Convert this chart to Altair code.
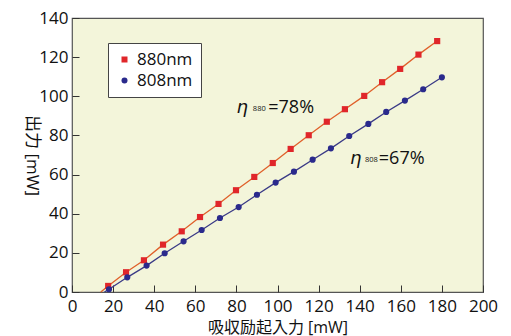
import altair as alt
import pandas as pd

x880 = [17.6, 26.3, 35.0, 44.3, 53.4, 62.3, 71.3, 79.8, 88.7, 97.7, 106.4, 115.2, 124.0, 132.8, 142.2, 150.9, 159.7, 168.6, 177.7]
y880 = [3.1, 10.1, 16.2, 24.2, 31.0, 38.3, 45.0, 52.0, 58.8, 65.9, 73.1, 80.1, 87.0, 93.4, 100.2, 107.2, 114.0, 121.3, 128.2]
x808 = [18.0, 26.9, 36.3, 45.1, 54.3, 63.1, 72.0, 81.1, 90.0, 99.1, 108.0, 117.1, 126.0, 134.9, 144.2, 152.9, 162.0, 170.9, 180.0]
y808 = [1.4, 7.5, 13.5, 19.8, 25.9, 31.7, 37.8, 43.4, 49.7, 55.9, 61.5, 67.6, 73.4, 79.7, 85.9, 92.0, 97.8, 103.6, 109.7]
# where each fitted line meets zero output
start880 = 14.0
start808 = 15.8

series = ["880nm", "808nm"]
marker_colors = ["#e0262a", "#2a2a8c"]
line_colors = ["#e0602a", "#3a3a86"]
shapes = ["square", "circle"]

x_ticks = [0, 20, 40, 60, 80, 100, 120, 140, 160, 180, 200]
y_ticks = [0, 20, 40, 60, 80, 100, 120, 140]

pts = pd.DataFrame(
    {"x": x880 + x808, "y": y880 + y808,
     "s": ["880nm"] * len(x880) + ["808nm"] * len(x808)}
)
lines = pd.DataFrame(
    {"x": [start880] + x880 + [start808] + x808,
     "y": [0.0] + y880 + [0.0] + y808,
     "s": ["880nm"] * (len(x880) + 1) + ["808nm"] * (len(x808) + 1)}
)

ann_main = pd.DataFrame({"x": [95.5, 149.3], "y": [91.3, 65.4], "t": ["=78%", "=67%"]})
ann_eta = pd.DataFrame({"x": [80.1, 135.3], "y": [91.3, 65.4], "t": ["η", "η"]})
ann_sub = pd.DataFrame({"x": [88.0, 142.6], "y": [92.6, 66.6], "t": ["880", "808"]})

FONT = "'Open Sans', 'Noto Sans CJK JP', sans-serif"

xs = alt.Scale(domain=[0, 200], nice=False)
ys = alt.Scale(domain=[0, 140], nice=False)

xaxis = alt.Axis(values=x_ticks, title="吸収励起入力 [mW]", grid=False, domain=False,
                 offset=-7, tickSize=7, tickColor="#333", labelPadding=6,
                 labelOverlap=False, labelFlush=False, labelBound=False,
                 labelFontSize=17, labelColor="#111", titleFontSize=16,
                 titleFontWeight="normal", titleColor="#111", titlePadding=5,
                 labelFont=FONT, titleFont=FONT)
yaxis = alt.Axis(values=y_ticks, title="出力 [mW]", grid=False, domain=False,
                 offset=-7, tickSize=7, tickColor="#333", labelPadding=4,
                 labelOverlap=False, labelFlush=False, labelBound=False,
                 labelFontSize=17, labelColor="#111", titleFontSize=17,
                 titleFontWeight="normal", titleColor="#111", titleAngle=90,
                 titlePadding=16, labelFont=FONT, titleFont=FONT)

X = alt.X("x:Q", scale=xs, axis=xaxis)
Y = alt.Y("y:Q", scale=ys, axis=yaxis)

leg = alt.Legend(title=None, orient="none", legendX=36, legendY=25,
                 fillColor="white", strokeColor="#444",
                 padding=8, labelFontSize=17, labelFont=FONT,
                 labelColor="#111", symbolSize=36, rowPadding=3,
                 symbolStrokeWidth=0)

line_layer = alt.Chart(lines).mark_line(strokeWidth=1.3).encode(
    x=X, y=Y,
    detail="s:N",
    stroke=alt.Stroke("s:N", scale=alt.Scale(domain=series, range=line_colors), legend=None),
)

pt_layer = alt.Chart(pts).mark_point(filled=True, size=38, opacity=1).encode(
    x=X, y=Y,
    color=alt.Color("s:N", scale=alt.Scale(domain=series, range=marker_colors), legend=leg),
    shape=alt.Shape("s:N", scale=alt.Scale(domain=series, range=shapes), legend=leg),
)

t_main = alt.Chart(ann_main).mark_text(align="left", baseline="alphabetic", fontSize=18,
                                       font=FONT, color="#111").encode(
    x=X, y=Y, text="t:N")
t_eta = alt.Chart(ann_eta).mark_text(align="left", baseline="alphabetic", fontSize=18,
                                     font="DejaVu Sans", fontStyle="italic", color="#111").encode(
    x=X, y=Y, text="t:N")
t_sub = alt.Chart(ann_sub).mark_text(align="left", baseline="alphabetic", fontSize=7.5,
                                     font=FONT, color="#111").encode(
    x=X, y=Y, text="t:N")

chart = alt.layer(line_layer, pt_layer, t_main, t_eta, t_sub).resolve_scale(
    stroke="independent"
).properties(
    width=411, height=274,
    autosize=alt.AutoSizeParams(type="none"),
    padding={"left": 64, "top": 10, "right": 20, "bottom": 44},
    background="white",
).configure_view(fill="#f3f5da", stroke="#555", strokeWidth=1.2)

chart.save("out.html", embed_options={"renderer": "svg", "actions": False})
